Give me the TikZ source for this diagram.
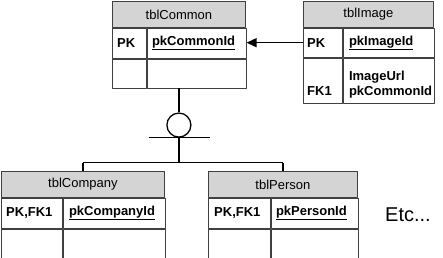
\documentclass[tikz,border=0pt]{standalone}
\usepackage{fontspec}
\setmainfont{Liberation Sans}
\usepackage{tikz}
\usetikzlibrary{arrows.meta, positioning, calc}
\definecolor{hdrgray}{HTML}{D4D4D4}
\definecolor{tblline}{HTML}{404040}

\begin{document}
\begin{tikzpicture}[x=1pt, y=-1pt, line join=round]
        \tikzset{hdr/.style={draw=tblline, fill=hdrgray, line width=0.8pt, minimum height=26pt,
                             inner sep=0pt, anchor=north west, font=\fontsize{13}{15}\selectfont}}
        \tikzset{cell/.style={draw=tblline, line width=0.8pt, inner sep=0pt, anchor=north west}}
        \tikzset{keytxt/.style={anchor=west, inner sep=0pt, font=\fontsize{13}{15}\selectfont\bfseries}}
        \tikzset{conn/.style={line width=1.3pt, black}}
        \useasboundingbox (0, 0) rectangle (443, 257);
        % tblCommon
        \node[hdr, minimum width=133pt] (common) at (112, 1) {tblCommon};
        \node[cell, minimum width=34pt, minimum height=30pt] (common-k1) at (common.south west) {};
        \node[cell, minimum width=99pt, minimum height=30pt] (common-f1) at (common-k1.north east) {};
        \node[cell, minimum width=34pt, minimum height=29pt] (common-k2) at (common-k1.south west) {};
        \node[cell, minimum width=99pt, minimum height=29pt] (common-f2) at (common-k2.north east) {};
        \node[keytxt] (common-pk) at ([xshift=5pt]common-k1.west) {PK};
        \node[keytxt] (common-id) at ([xshift=5pt]common-f1.west) {\underline{pkCommonId}};
        % tblImage
        \node[hdr, minimum width=130pt] (image) at (303, 1) {tblImage};
        \node[cell, minimum width=39pt, minimum height=29pt] (image-k1) at (image.south west) {};
        \node[cell, minimum width=91pt, minimum height=29pt] (image-f1) at (image-k1.north east) {};
        \node[cell, minimum width=39pt, minimum height=45pt] (image-k2) at (image-k1.south west) {};
        \node[cell, minimum width=91pt, minimum height=45pt] (image-f2) at (image-k2.north east) {};
        \node[keytxt] (image-pk) at ([xshift=4pt]image-k1.west) {PK};
        \node[keytxt] (image-id) at ([xshift=6pt]image-f1.west) {\underline{pkImageId}};
        \node[keytxt, anchor=base west] (image-fk) at ([xshift=4pt, yshift=8pt]image-k2.south west) {FK1};
        \node[keytxt, anchor=base west] (image-ref) at ([xshift=6pt, yshift=8pt]image-f2.south west) {pkCommonId};
        \node[keytxt, anchor=base west] (image-url) at ([yshift=15pt]image-ref.base west) {ImageUrl};
        % tblCompany
        \node[hdr, minimum width=163pt] (company) at (1, 171) {tblCompany};
        \node[cell, minimum width=61pt, minimum height=30pt] (company-k1) at (company.south west) {};
        \node[cell, minimum width=102pt, minimum height=30pt] (company-f1) at (company-k1.north east) {};
        \node[cell, minimum width=61pt, minimum height=29pt] (company-k2) at (company-k1.south west) {};
        \node[cell, minimum width=102pt, minimum height=29pt] (company-f2) at (company-k2.north east) {};
        \node[keytxt] (company-pk) at ([xshift=5pt]company-k1.west) {PK,FK1};
        \node[keytxt] (company-id) at ([xshift=6pt]company-f1.west) {\underline{pkCompanyId}};
        % tblPerson
        \node[hdr, minimum width=149pt] (person) at (208, 171) {tblPerson};
        \node[cell, minimum width=62pt, minimum height=30pt] (person-k1) at (person.south west) {};
        \node[cell, minimum width=87pt, minimum height=30pt] (person-f1) at (person-k1.north east) {};
        \node[cell, minimum width=62pt, minimum height=29pt] (person-k2) at (person-k1.south west) {};
        \node[cell, minimum width=87pt, minimum height=29pt] (person-f2) at (person-k2.north east) {};
        \node[keytxt] (person-pk) at ([xshift=6pt]person-k1.west) {PK,FK1};
        \node[keytxt] (person-id) at ([xshift=5pt]person-f1.west) {\underline{pkPersonId}};
        \node[font=\fontsize{20}{22}\selectfont] (etc) at (408, 215) {Etc...};
        % relationship to tblImage
        \draw[conn, -{Triangle[length=10pt, width=9pt]}] (image-k1.west)
            -- (image-k1.west -| common-f1.east);
        % subtype symbol
        \coordinate (cbot) at (common-k2.south -| common.south);
        \node[conn, draw, circle, minimum size=24pt, inner sep=0pt, anchor=north] (isa) at ([yshift=-24pt]cbot) {};
        \coordinate (split) at ([yshift=-25pt]isa.south);
        \draw[conn] (cbot) -- (isa.north);
        \draw[conn] ([xshift=-30pt]isa.south) -- ([xshift=31pt]isa.south);
        \draw[conn] (isa.south) -- (split);
        \draw[conn] (split -| company.north) -- (split -| person.north);
        \draw[conn] (split -| company.north) -- (company.north);
        \draw[conn] (split -| person.north) -- (person.north);
    \end{tikzpicture}
\end{document}
